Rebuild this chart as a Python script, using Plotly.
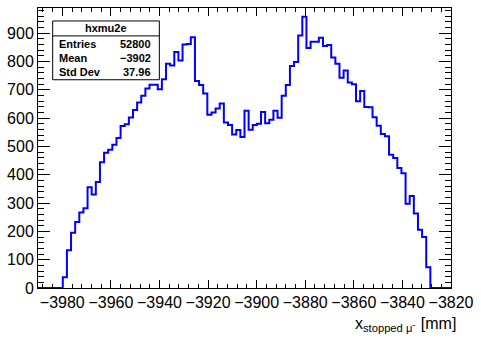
import plotly.graph_objects as go

# Histogram definition: 100 bins over [-3990, -3820] mm
X_MIN = -3990.0
X_MAX = -3820.0
N_BINS = 100

# Bin contents (entries per bin), bins 0..99
counts = [
    0, 0, 0, 0, 0, 0,
    38, 133, 195, 233, 267, 282, 356, 330, 374, 444,
    478, 488, 506, 530, 572, 578, 602, 629, 655, 679,
    705, 718, 718, 702, 737, 792, 786, 834, 804, 860,
    862, 886, 731, 717, 687, 612, 620, 634, 652, 585,
    576, 542, 558, 533, 626, 559, 576, 580, 622, 582,
    594, 626, 601, 679, 717, 784, 798, 892, 958, 848,
    870, 870, 884, 855, 858, 814, 792, 743, 768, 726,
    720, 660, 696, 639, 638, 603, 573, 544, 536, 471,
    459, 424, 405, 298, 325, 263, 206, 180, 73,
    0, 0, 0, 0, 0,
]

# Statistics box contents
stats_title = "hxmu2e"
stats_names = ["Entries", "Mean", "Std Dev"]
stats_values = ["52800", "\u22123902", "37.96"]

x_ticks = list(range(-3980, -3819, 20))
y_ticks = list(range(0, 901, 100))

Y_MAX = 989

bin_w = (X_MAX - X_MIN) / N_BINS
edges = [X_MIN + i * bin_w for i in range(N_BINS + 1)]
step_y = counts + [counts[-1]]

W, H = 481, 342
ML, MR, MT, MB = 36, 23, 7, 54
PW, PH = W - ML - MR, H - MT - MB


def px(xp):
    return (xp - ML) / PW


def py(yp):
    return (H - MB - yp) / PH


FONT = "Liberation Sans, Arial, Helvetica, sans-serif"

fig = go.Figure()
fig.add_trace(go.Scatter(
    x=edges, y=step_y, mode="lines",
    line=dict(color="#0000ff", width=2, shape="hv"),
    hoverinfo="skip", showlegend=False,
))

axis_common = dict(
    showline=True, linecolor="black", linewidth=1, mirror="allticks",
    ticks="inside", tickcolor="black", tickwidth=1,
    showgrid=False, zeroline=False, layer="below traces",
    tickfont=dict(family=FONT, size=16, color="black"),
)

fig.update_xaxes(
    range=[X_MIN, X_MAX], tickvals=x_ticks, ticklen=8,
    minor=dict(dtick=4, tick0=-3980, ticklen=4, ticks="inside",
               tickcolor="black", tickwidth=1, showgrid=False),
    **axis_common,
)
fig.update_yaxes(
    range=[0, Y_MAX], tickvals=y_ticks, ticklen=12,
    minor=dict(dtick=20, tick0=0, ticklen=6, ticks="inside",
               tickcolor="black", tickwidth=1, showgrid=False),
    **axis_common,
)

# Stats box
bx0, bx1, by0, by1, bsep = 51, 160, 20, 79, 35
shapes = [
    dict(type="rect", xref="paper", yref="paper",
         x0=px(bx0), x1=px(bx1), y0=py(by1), y1=py(by0),
         line=dict(color="black", width=1), fillcolor="white", layer="above"),
    dict(type="line", xref="paper", yref="paper",
         x0=px(bx0), x1=px(bx1), y0=py(bsep), y1=py(bsep),
         line=dict(color="black", width=1), layer="above"),
]

annotations = [
    dict(text="<b>%s</b>" % stats_title, xref="paper", yref="paper",
         x=px((bx0 + bx1) / 2), y=py(27.5), xanchor="center", yanchor="middle",
         showarrow=False, font=dict(family=FONT, size=11, color="black")),
]
row_y = [43, 57, 71]
for name, val, ry in zip(stats_names, stats_values, row_y):
    annotations.append(dict(
        text="<b>%s</b>" % name, xref="paper", yref="paper",
        x=px(55), y=py(ry), xanchor="left", yanchor="middle",
        showarrow=False, font=dict(family=FONT, size=11, color="black")))
    annotations.append(dict(
        text="<b>%s</b>" % val, xref="paper", yref="paper",
        x=px(154), y=py(ry), xanchor="right", yanchor="middle",
        showarrow=False, font=dict(family=FONT, size=11, color="black")))

# X axis title, right-aligned at the end of the axis
annotations.append(dict(
    text="x<sub>stopped \u03bc\u207b</sub> [mm]", xref="paper", yref="paper",
    x=px(465), y=py(325), xanchor="right", yanchor="middle", showarrow=False,
    font=dict(family=FONT, size=16, color="black")))

fig.update_layout(
    width=W, height=H,
    margin=dict(l=ML, r=MR, t=MT, b=MB, pad=0),
    paper_bgcolor="white", plot_bgcolor="white",
    shapes=shapes, annotations=annotations,
    showlegend=False,
)

fig.write_html("out.html", config={"displayModeBar": False})
